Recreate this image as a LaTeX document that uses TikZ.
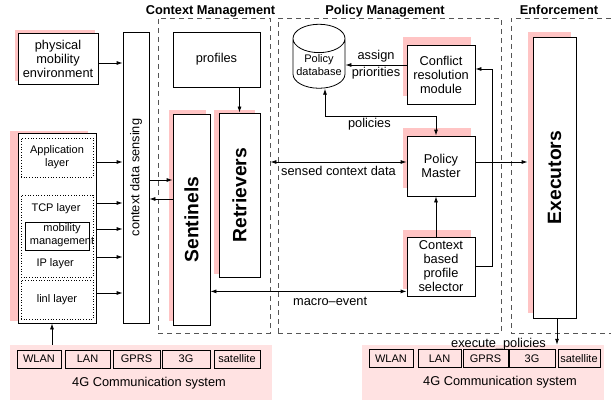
\documentclass[tikz,border=0pt]{standalone}
\usepackage{fontspec}
\setmainfont{Liberation Sans}
\usetikzlibrary{arrows.meta,shapes.geometric,shadows}
\definecolor{shadowpink}{RGB}{255,196,196}
\definecolor{netpink}{RGB}{255,226,226}
\definecolor{groupgray}{RGB}{85,85,85}
\newcommand{\txtmain}{\fontsize{12.8}{14}\selectfont}
\newcommand{\txtsmall}{\fontsize{11}{13}\selectfont}
\newcommand{\txtbig}{\fontsize{19.3}{22}\selectfont\bfseries}
\newcommand{\txthead}{\fontsize{12.8}{14}\selectfont\bfseries}

\begin{document}
\begin{tikzpicture}[
  x=1pt, y=-1pt,
  box/.style={rectangle, draw, line width=0.8pt, fill=white, align=center,
    inner sep=1pt, font=\txtmain},
  lifted/.style 2 args={general shadow={draw=none, fill=shadowpink,
    shadow xshift=-#1pt, shadow yshift=#2pt}},
  layer/.style={rectangle, draw, dotted, line width=0.7pt, minimum width=72,
    align=center, font=\txtsmall},
  group/.style={draw=groupgray, line width=0.8pt, dash pattern=on 5pt off 4pt},
  head/.style={font=\txthead, anchor=base, inner sep=0pt},
  netbox/.style={rectangle, draw, line width=0.8pt, minimum height=18,
    inner sep=0pt, font=\txtsmall},
  arr/.style={-{Latex[length=6pt,width=4pt]}, line width=0.8pt},
  dblarr/.style={{Latex[length=6pt,width=4pt]}-{Latex[length=6pt,width=4pt]}, line width=0.8pt},
  lbl/.style={font=\txtmain, inner sep=2pt}
]
\useasboundingbox (0,0) rectangle (611,404);

% groups
\node[group, minimum width=112, minimum height=315] (ctxgroup) at (214,175.5) {};
\node[group, minimum width=223, minimum height=315] (polgroup) at (389.5,175.5) {};
\draw[group] (611,18) -| (511,333) -- (611,333);
\node[head] (ctxtitle) at (210.5,14.5) {Context Management};
\node[head] (poltitle) at (385,14.5) {Policy Management};
\node[head] (enftitle) at (559,14.5) {Enforcement};

% networks
\node[fill=netpink, minimum width=262, minimum height=55] (net1) at (141,372.5) {};
\node[fill=netpink, minimum width=242, minimum height=55] (net2) at (483,372.5) {};
\node[netbox, minimum width=44] (wlan1) at (39,359) {WLAN};
\node[netbox, minimum width=45] (lan1) at (87.5,359) {LAN};
\node[netbox, minimum width=47] (gprs1) at (136.5,359) {GPRS};
\node[netbox, minimum width=48] (threeg1) at (186,359) {3G};
\node[netbox, minimum width=46] (sat1) at (237,359) {satellite};
\node[font=\txtmain] (netname1) at (149,383) {4G Communication system};
\node[netbox, minimum width=44] (wlan2) at (391,358.5) {WLAN};
\node[netbox, minimum width=43] (lan2) at (439.5,358.5) {LAN};
\node[netbox, minimum width=45] (gprs2) at (485.5,358.5) {GPRS};
\node[netbox, minimum width=46] (threeg2) at (532,358.5) {3G};
\node[netbox, minimum width=42] (sat2) at (579,358.5) {satellite};
\node[font=\txtmain] (netname2) at (500,382) {4G Communication system};

% terminal side
\node[box, lifted={3}{3}, minimum width=80, minimum height=51] (phys) at (58,58.5)
  {physical\\mobility\\environment};
\node[box, lifted={8}{2}, minimum width=78, minimum height=190] (stack) at (57,228) {};
\node[layer, minimum height=39] (app) at (57,157.5) {Application\\layer};
\node[layer, minimum height=82] (tcpip) at (57,236) {};
\node[layer, minimum height=39] (link) at (57,299.5) {linl layer};
\node[font=\txtsmall, anchor=west] (tcptxt) at (28,209) {TCP layer};
\node[draw, line width=0.8pt, minimum width=64, minimum height=28] (mob) at (57,236) {};
\node[font=\txtsmall, align=center, inner sep=0pt] (mobtxt) at (62,235) {mobility\\management};
\node[font=\txtsmall, anchor=west] (iptxt) at (33,264) {IP layer};
\node[box, minimum width=26, minimum height=291] (sensing) at (136,177.5)
  {\rotatebox{90}{context data sensing}};

% context management
\node[box, minimum width=87, minimum height=55] (profiles) at (216.5,59.5) {profiles};
\node[box, lifted={4}{4}, minimum width=37, minimum height=211, font=\txtbig] (sentinels)
  at (191.5,219.5) {\rotatebox{90}{Sentinels}};
\node[box, lifted={5}{3}, minimum width=41, minimum height=164, font=\txtbig] (retr)
  at (239.5,195) {\rotatebox{90}{Retrievers}};

% policy management
\node[cylinder, shape border rotate=90, aspect=0.6, draw, line width=0.8pt, fill=white,
  minimum width=52, minimum height=64, align=center, font=\txtsmall, inner sep=1pt] (db)
  at (319,65.5) {Policy\\database};
\node[box, lifted={4}{8}, minimum width=68, minimum height=59] (conflict) at (441,74.5)
  {Conflict\\resolution\\module};
\node[box, lifted={4}{8}, minimum width=68, minimum height=60] (master) at (441,166)
  {Policy\\Master};
\node[box, lifted={4}{7}, minimum width=68, minimum height=59] (selector) at (441,266.5)
  {Context\\based\\profile\\selector};

% enforcement
\node[box, lifted={5}{5}, minimum width=43, minimum height=281, font=\txtbig] (exec)
  at (554.5,177.5) {\rotatebox{90}{Executors}};

% connectors
\draw[arr] ([yshift=-4.5pt]phys.east) -- ([yshift=-4.5pt]phys.east -| sensing.west);
\draw[arr] (stack.east |- 0,162) -- (sensing.west |- 0,162);
\draw[arr] (stack.east |- 0,203) -- (sensing.west |- 0,203);
\draw[arr] (stack.east |- 0,229) -- (sensing.west |- 0,229);
\draw[arr] (stack.east |- 0,257) -- (sensing.west |- 0,257);
\draw[arr] (stack.east |- 0,293) -- (sensing.west |- 0,293);
\draw[arr] ([xshift=-5pt]stack.south |- net1.north) -- ([xshift=-5pt]stack.south);
\draw[arr] (sensing.east |- 0,180) -- (sentinels.west |- 0,180);
\draw[arr] (sentinels.west |- 0,199) -- (sensing.east |- 0,199);
\draw[arr] (profiles.south -| retr.north) -- (retr.north);

\draw[arr] ([yshift=9.5pt]conflict.west) -- ([yshift=9.5pt]conflict.west -| db.east)
  node[midway, above, lbl] {assign} node[midway, below, lbl] {priorities};
\draw[arr] (selector.east) -- ++(17,0) |- ([yshift=5.5pt]conflict.east);
\draw[dblarr] ([xshift=6pt]db.south) -- ([xshift=6pt]db.south |- 0,116)
  -| node[pos=0.2, below, lbl] {policies} ([xshift=-5pt]master.north);
\draw[arr] ([xshift=-5pt]selector.north) -- ([xshift=-5pt]master.south);
\draw[dblarr] ([yshift=4pt]master.west) -- ([yshift=4pt]master.west -| ctxgroup.east)
  node[midway, below=2pt, lbl] {sensed context data};
\draw[dblarr] ([yshift=5pt]selector.south west) -- ([yshift=5pt]selector.south west -| sentinels.east)
  node[pos=0.39, below=3pt, lbl] {macro--event};
\draw[arr, shorten >=5pt] ([yshift=4pt]master.east) -- ([yshift=4pt]master.east -| exec.west);
\draw[arr] ([xshift=2.5pt]exec.south) -- ([xshift=2.5pt]exec.south |- net2.north);
\node[lbl, anchor=base east, inner sep=0pt] (execlbl) at (546,347) {execute\_policies};
\end{tikzpicture}
\end{document}
